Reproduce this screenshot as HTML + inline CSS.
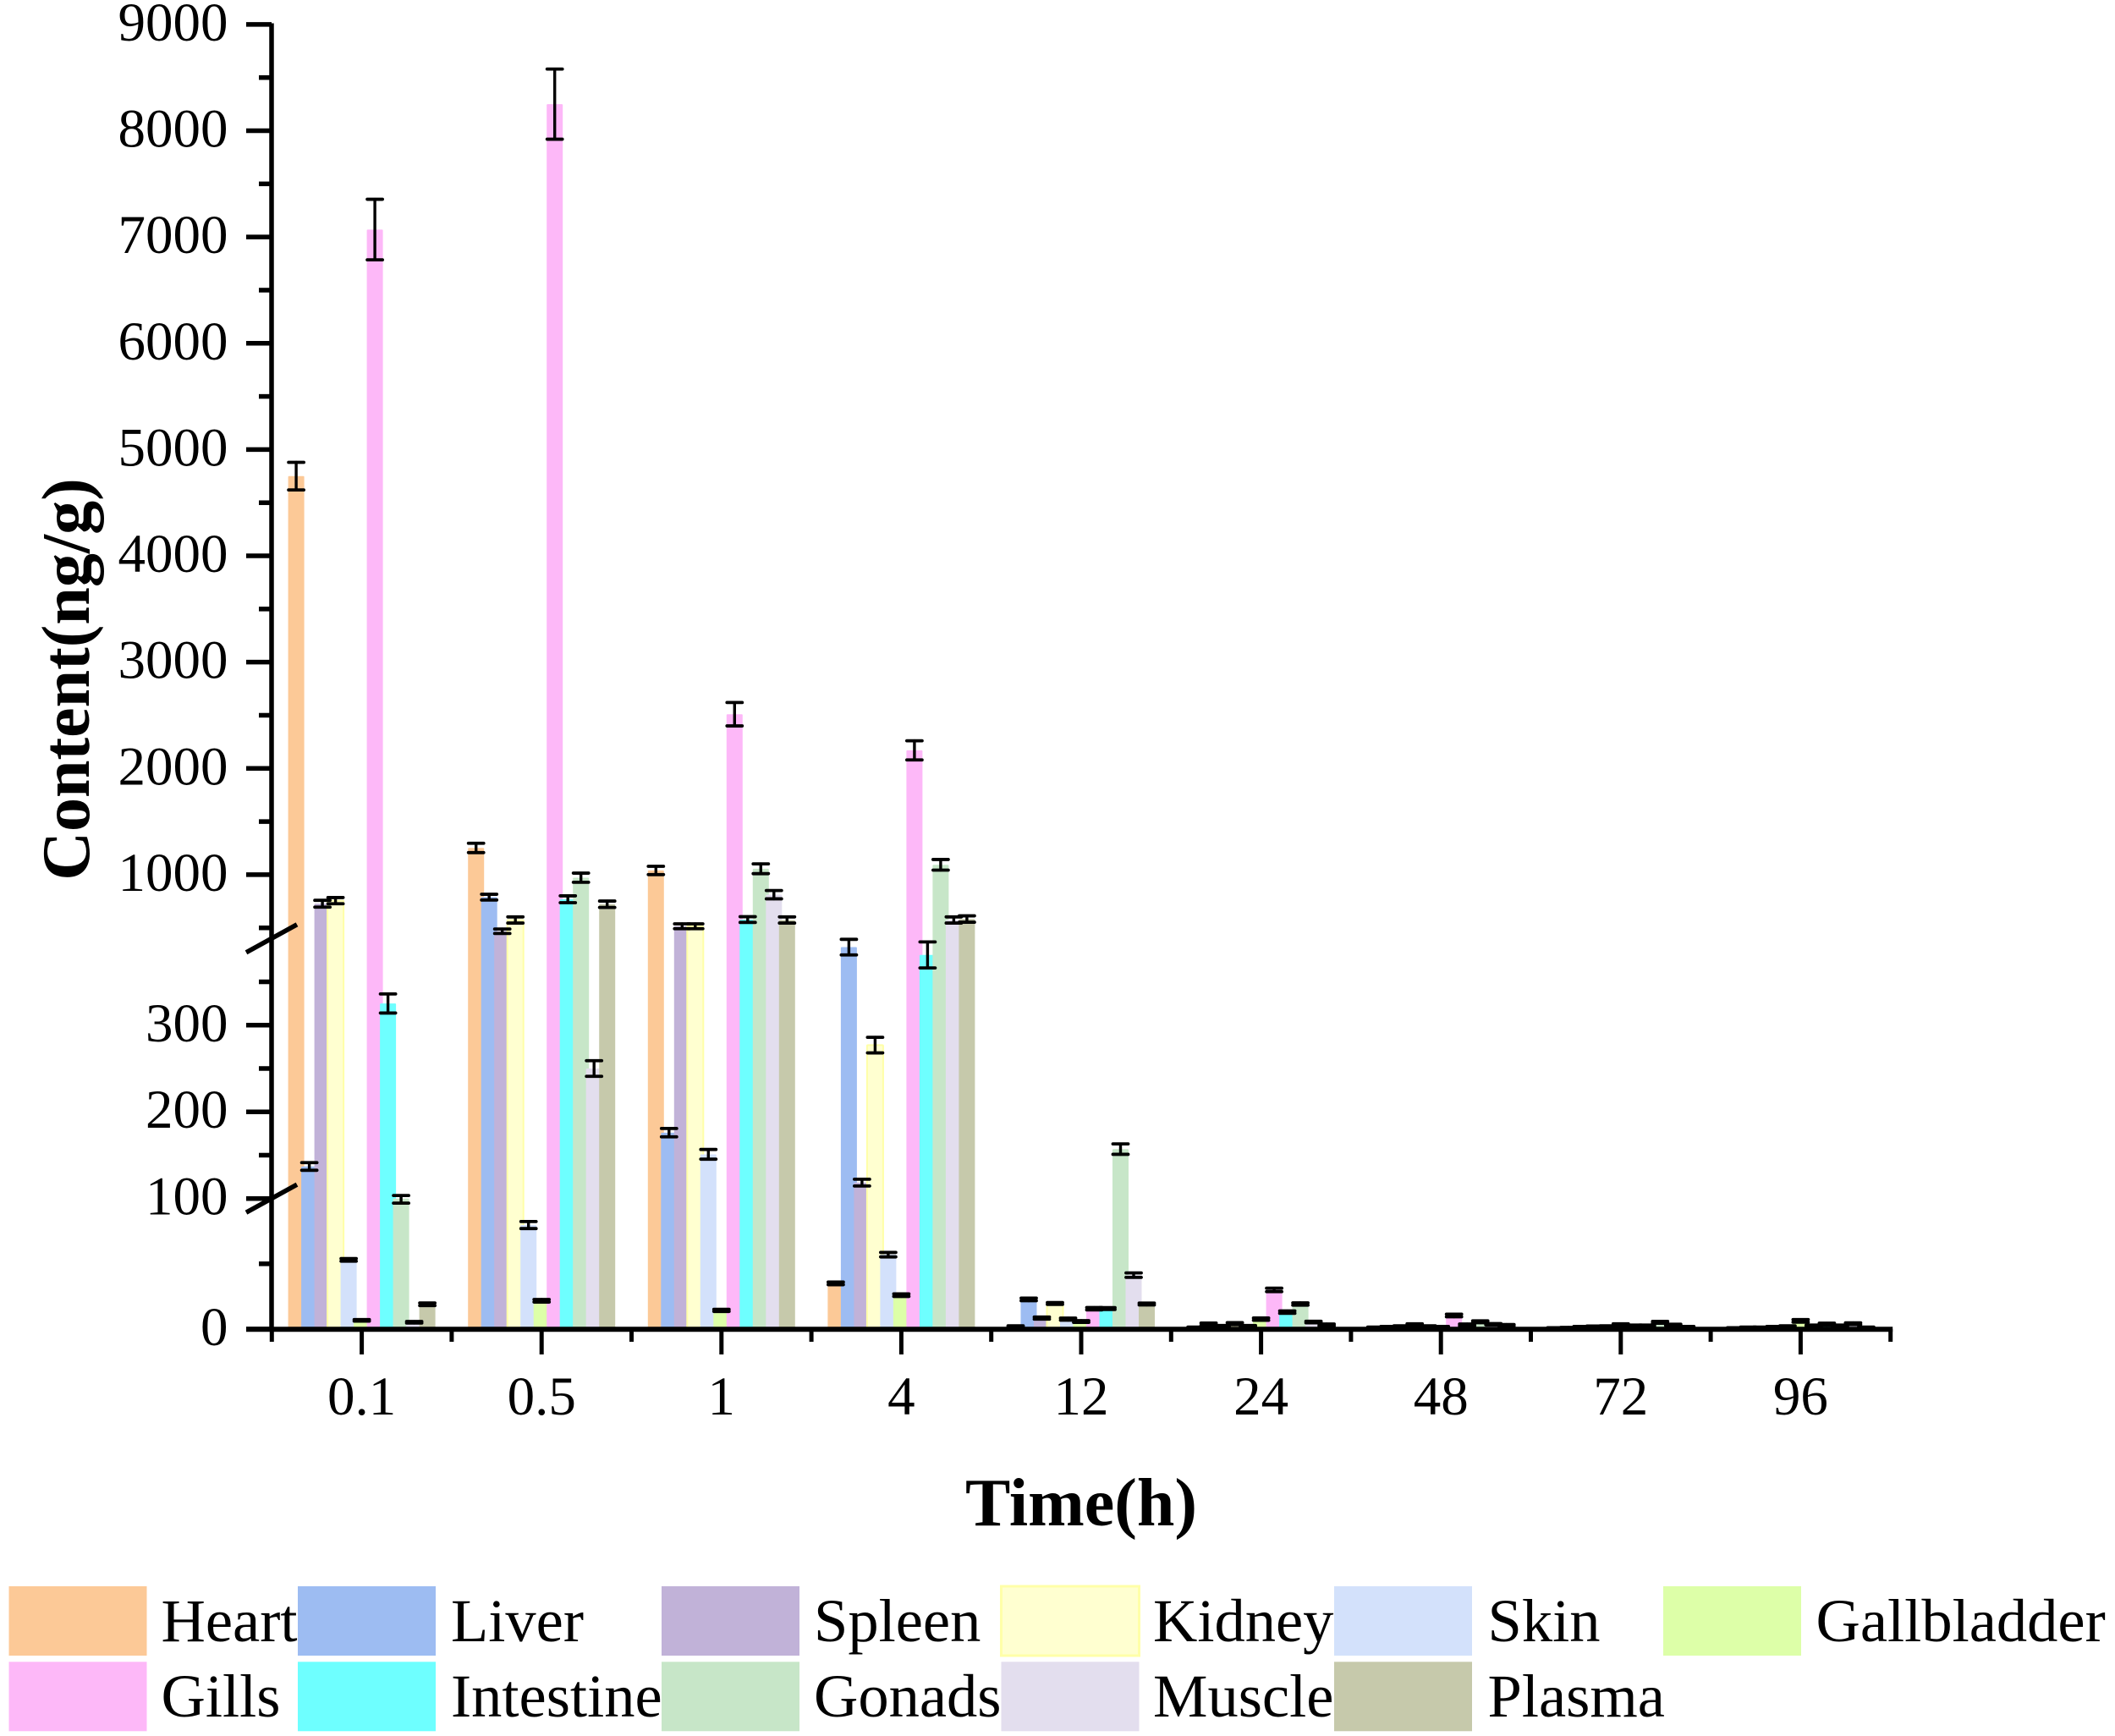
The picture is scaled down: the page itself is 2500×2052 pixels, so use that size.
<!DOCTYPE html>
<html lang="en">
<head>
<meta charset="utf-8">
<title>Content over time by tissue</title>
<style>
  html, body { margin: 0; padding: 0; background: #fff; }
  svg { display: block; }
  text { font-family: "Liberation Serif", serif; fill: #000; }
</style>
</head>
<body>
<svg id="chart" xmlns="http://www.w3.org/2000/svg" width="2500" height="2052" viewBox="0 0 2500 2052">
  <rect x="0" y="0" width="2500" height="2052" fill="#ffffff"/>
  <g id="bars"></g>
  <g id="errors"></g>
  <g id="axes"></g>
  <g id="legend"></g>
  <text x="1278" y="1803" font-size="80" font-weight="bold" text-anchor="middle">Time(h)</text>
  <text transform="translate(105 803) rotate(-90)" font-size="80" font-weight="bold" text-anchor="middle">Content(ng/g)</text>
</svg>
<script>
const categories = ['0.1', '0.5', '1', '4', '12', '24', '48', '72', '96'];
const seriesNames = ['Heart', 'Liver', 'Spleen', 'Kidney', 'Skin', 'Gallbladder', 'Gills', 'Intestine', 'Gonads', 'Muscle', 'Plasma'];
const seriesColors = ['#fcc997', '#9dbcf2', '#c1b2d8', '#ffffd0', '#d3e1fb', '#ddffa8', '#fdb8f8', '#6effff', '#c7e6c8', '#e3deee', '#c6c9ab'];

const heart = [4750, 1252, 1040, 35, 2, 1, 1, 0.5, 0.5];
const liver = [137, 789, 176, 390, 22.7, 3.7, 1.5, 0.8, 1];
const spleen = [727, 468, 515, 118.4, 8.4, 2.2, 2, 1.5, 1];
const kidney = [756, 574, 515, 277, 19.6, 4.1, 3.2, 1.8, 1.5];
const skin = [53, 79.7, 151, 57, 7.6, 2.2, 2, 2, 2];
const gallbladder = [6.7, 21.7, 14.3, 26, 5.8, 7.6, 1.5, 3.2, 6.3];
const gills = [7070, 8250, 2510, 2170, 15.6, 30, 10.4, 2.6, 2.6];
const intestine = [325, 769, 578, 381, 15.7, 13, 3.2, 2.6, 3.7];
const gonads = [100, 972, 1056, 1093, 157, 19.2, 5.6, 5.2, 2.6];
const muscle = [5.2, 250, 812, 574, 41.3, 5.4, 3.7, 3.2, 4.1];
const plasma = [19, 722, 574, 583, 19.2, 3.2, 3, 1.5, 1];

const heartErr = [130, 44, 39, 1, 0.5, 0.5, 0.5, 0.5, 0.5];
const liverErr = [4.4, 27, 4.8, 9, 1, 0.9, 0.5, 0.5, 0.5];
const spleenErr = [32, 21, 23, 3.9, 0.8, 0.5, 0.5, 0.5, 0.5];
const kidneyErr = [29, 29, 23, 9, 0.7, 0.8, 0.8, 0.5, 0.5];
const skinErr = [1, 2.7, 5.6, 1.7, 0.8, 0.5, 0.5, 0.5, 0.5];
const gallbladderErr = [0.6, 1, 0.8, 1, 0.7, 0.9, 0.5, 0.8, 1];
const gillsErr = [285, 330, 110, 90, 0.9, 1.3, 1, 0.5, 0.5];
const intestineErr = [11, 32, 27, 15, 0.7, 0.9, 0.7, 0.5, 0.8];
const gonadsErr = [3.5, 43, 46, 50, 6, 0.9, 0.7, 0.7, 0.5];
const muscleErr = [0.6, 9, 39, 29, 1.7, 0.6, 0.5, 0.5, 0.7];
const plasmaErr = [1, 30, 29, 30, 0.7, 0.7, 0.5, 0.5, 0.5];

const seriesValues = [heart, liver, spleen, kidney, skin, gallbladder, gills, intestine, gonads, muscle, plasma];
const seriesErrors = [heartErr, liverErr, spleenErr, kidneyErr, skinErr, gallbladderErr, gillsErr, intestineErr, gonadsErr, muscleErr, plasmaErr];

const yMajorTicks = [0, 100, 200, 300, 1000, 2000, 3000, 4000, 5000, 6000, 7000, 8000, 9000];
const yMinorTicks = [50, 150, 250, 350, 500, 1500, 2500, 3500, 4500, 5500, 6500, 7500, 8500];
const axisBreaks = [100, 400];

const SVG_NS = 'http://www.w3.org/2000/svg';

function yScale(v) {
  if (v <= 100) return 1571 - v * 1.543;
  if (v <= 400) return 1416.7 - (v - 100) * 1.0247;
  return 1109.3 - (v - 400) * 0.12563;
}
const tickStep = 212.6;
const firstTick = 427.6;
const barStep = 15.5;
const barWidth = 19;
function xCenter(g) { return firstTick + g * tickStep; }
function xBar(g, s) { return xCenter(g) + (s - 5) * barStep; }

function make(tag, attrs, parent) {
  const el = document.createElementNS(SVG_NS, tag);
  for (const k in attrs) el.setAttribute(k, attrs[k]);
  parent.appendChild(el);
  return el;
}
function slug(t) { return String(t).toLowerCase().replace(/\./g, '-'); }

const barsLayer = document.getElementById('bars');
const errorsLayer = document.getElementById('errors');
const axesLayer = document.getElementById('axes');
const legendLayer = document.getElementById('legend');

seriesValues.forEach(function (values, s) {
  values.forEach(function (v, g) {
    const top = yScale(v);
    const bar = make('rect', {
      x: xBar(g, s) - barWidth / 2,
      y: top,
      width: barWidth,
      height: Math.max(0, 1571 - top),
      rx: 1,
      fill: seriesColors[s]
    }, barsLayer);
    if (seriesNames[s] === 'Kidney') {
      bar.setAttribute('stroke', '#ffffa8');
      bar.setAttribute('stroke-width', '2');
    }
    
    
  });
});

seriesValues.forEach(function (values, s) {
  values.forEach(function (v, g) {
    const e = seriesErrors[s][g];
    const x = xBar(g, s);
    const y1 = yScale(v + e);
    const y2 = yScale(Math.max(0, v - e));
    const group = make('g', { stroke: '#000', 'stroke-linecap': 'round', fill: 'none' }, errorsLayer);
    
    
    make('line', { x1: x, x2: x, y1: y1, y2: y2, 'stroke-width': 3.4 }, group);
    make('line', { x1: x - 9, x2: x + 9, y1: y1, y2: y1, 'stroke-width': 3.8 }, group);
    make('line', { x1: x - 9, x2: x + 9, y1: y2, y2: y2, 'stroke-width': 3.8 }, group);
  });
});

const axisEndX = xCenter(categories.length) - tickStep / 2;
const yAxisLine = make('line', { x1: 321, x2: 321, y1: 27.5, y2: 1574, stroke: '#000', 'stroke-width': 5.5 }, axesLayer);


const xAxisLine = make('line', { x1: 291, x2: axisEndX + 2.5, y1: 1571.3, y2: 1571.3, stroke: '#000', 'stroke-width': 6 }, axesLayer);



yMajorTicks.forEach(function (v) {
  const y = yScale(v);
  const tick = make('line', { x1: 291, x2: 321, y1: y, y2: y, stroke: '#000', 'stroke-width': 5.5 }, axesLayer);
  
  
  const label = make('text', { x: 269.5, y: y + 19, 'font-size': 65, 'text-anchor': 'end' }, axesLayer);
  label.textContent = String(v);
  
  
});
yMinorTicks.forEach(function (v) {
  const y = yScale(v);
  const tick = make('line', { x1: 306, x2: 321, y1: y, y2: y, stroke: '#000', 'stroke-width': 5.5 }, axesLayer);
  
  
});

categories.forEach(function (c, g) {
  const x = xCenter(g);
  const tick = make('line', { x1: x, x2: x, y1: 1571, y2: 1601, stroke: '#000', 'stroke-width': 5 }, axesLayer);
  
  
  const label = make('text', { x: x, y: 1672, 'font-size': 65, 'text-anchor': 'middle' }, axesLayer);
  label.textContent = c;
  
  
});
for (let g = 0; g <= categories.length; g++) {
  const x = xCenter(g) - tickStep / 2;
  const tick = make('line', { x1: x, x2: x, y1: 1571, y2: 1586, stroke: '#000', 'stroke-width': 5 }, axesLayer);
  
  
}

axisBreaks.forEach(function (v) {
  const y = yScale(v);
  const mark = make('line', { x1: 291, x2: 351, y1: y + 16.5, y2: y - 16.5, stroke: '#000', 'stroke-width': 5.5 }, axesLayer);
  
  
});

const legendRows = [
  [0, 1, 2, 3, 4, 5],
  [6, 7, 8, 9, 10]
];
const legendSwatchLeft = [10.5, 352, 782, 1183.5, 1577, 1966];
const legendTextLeft = [190.5, 533, 962, 1363, 1758.5, 2146.5];
const legendRowTop = [1875, 1964.3];
const legendBaseline = [1940, 2029];

legendRows.forEach(function (row, r) {
  row.forEach(function (s, col) {
    const entry = make('g', {}, legendLayer);
    
    
    const swatch = make('rect', {
      x: legendSwatchLeft[col],
      y: legendRowTop[r],
      width: 163,
      height: 82,
      fill: seriesColors[s]
    }, entry);
    if (seriesNames[s] === 'Kidney') {
      swatch.setAttribute('stroke', '#ffffa8');
      swatch.setAttribute('stroke-width', '3');
    }
    
    
    const label = make('text', { x: legendTextLeft[col], y: legendBaseline[r], 'font-size': 72.5 }, entry);
    label.textContent = seriesNames[s];
    
    
  });
});
</script>
</body>
</html>
